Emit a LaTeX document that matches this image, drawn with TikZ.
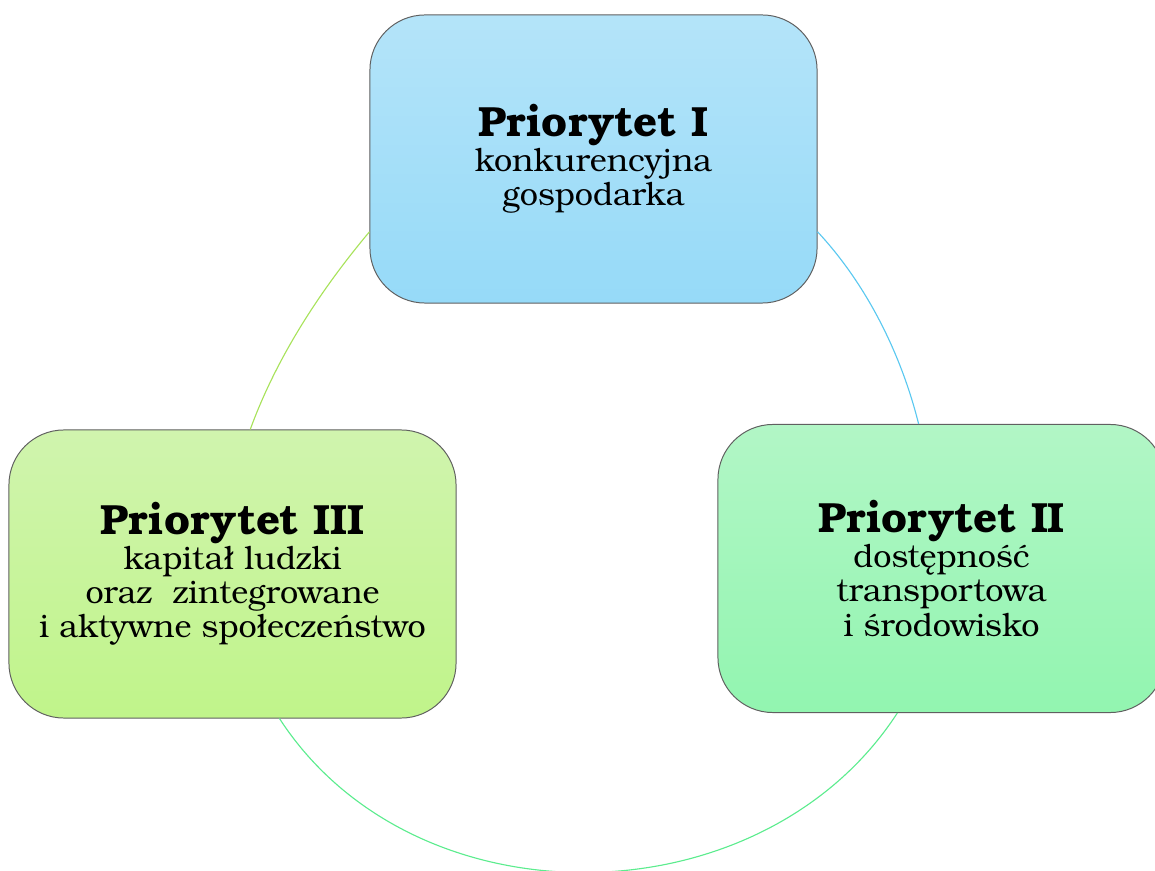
\documentclass[tikz,border=0pt]{standalone}
\usepackage{fontspec}
\setmainfont{texgyrebonum}[Extension=.otf,UprightFont=*-regular,BoldFont=*-bold,ItalicFont=*-italic,BoldItalicFont=*-bolditalic]
\usepackage{xcolor}

\definecolor{blueTop}{RGB}{180,228,249}
\definecolor{blueBot}{RGB}{150,218,248}
\definecolor{greenTop}{RGB}{178,246,198}
\definecolor{greenBot}{RGB}{146,245,176}
\definecolor{limeTop}{RGB}{208,244,174}
\definecolor{limeBot}{RGB}{192,244,138}
\definecolor{arcBlue}{RGB}{90,200,240}
\definecolor{arcGreen}{RGB}{92,236,142}
\definecolor{arcLime}{RGB}{168,226,90}

\begin{document}
\begin{tikzpicture}[x=0.025cm,y=0.025cm,thick]
\tikzstyle{prio}=[rectangle,rounded corners=1.375cm,draw=gray!75!black,line width=0.7pt,
  minimum width=11.175cm,minimum height=7.2cm,inner sep=0pt,align=center,
  font=\fontsize{23}{24.5}\selectfont]
\tikzstyle{ring}=[line width=0.8pt]
\useasboundingbox (0,0) rectangle (1155,870);
\clip (0,0) rectangle (1155,870);
\node[prio,top color=blueTop,bottom color=blueBot] (P1) at (593.5,711)
  {{\fontsize{30}{30}\selectfont\bfseries Priorytet I}\\konkurencyjna\\gospodarka};
\node[prio,top color=greenTop,bottom color=greenBot] (P2) at (941.5,301.5)
  {{\fontsize{30}{30}\selectfont\bfseries Priorytet II}\\dostępność\\transportowa\\i środowisko};
\node[prio,top color=limeTop,bottom color=limeBot] (P3) at (232.5,296)
  {{\fontsize{30}{30}\selectfont\bfseries Priorytet III}\\kapitał ludzki\\oraz~ zintegrowane\\i aktywne społeczeństwo};
\path[ring]
  (P1.-18) edge[draw=arcBlue,out=-47,in=104,looseness=0.85] (P2.99)
  (P2.-107) edge[draw=arcGreen,out=-123,in=-57,looseness=1.03] (P3.-72)
  (P3.83) edge[draw=arcLime,out=70,in=-130,looseness=0.85] (P1.-162);
\end{tikzpicture}
\end{document}
